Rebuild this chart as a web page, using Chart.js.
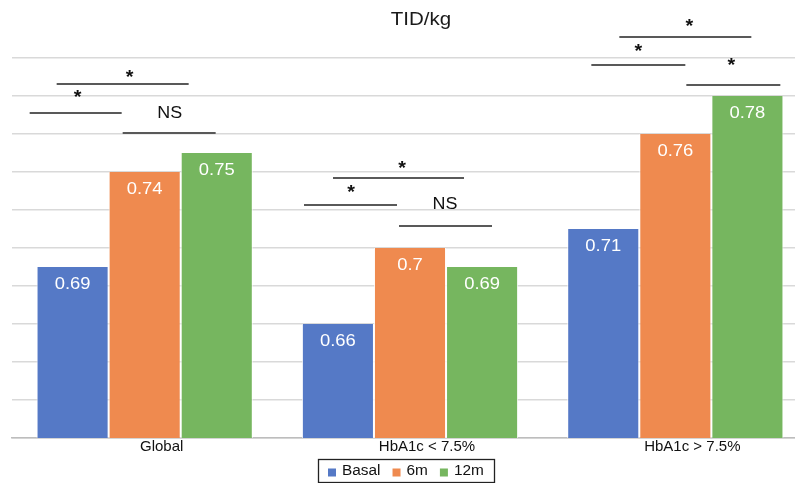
<!DOCTYPE html>
<html>
<head>
<meta charset="utf-8">
<script src="https://cdn.jsdelivr.net/npm/chart.js@4/dist/chart.umd.min.js"></script>
<style>
  html, body { margin: 0; padding: 0; background: #fff; overflow: hidden; }
  #wrap { position: relative; width: 808px; height: 483px; }
</style>
</head>
<body>
<div id="wrap"><canvas id="c"></canvas></div>
<script>
// Groups and series
const categories = ['Global', 'HbA1c < 7.5%', 'HbA1c > 7.5%'];
const seriesNames = ['Basal', '6m', '12m'];
const basal = [0.69, 0.66, 0.71];
const sixMonths = [0.74, 0.70, 0.76];
const twelveMonths = [0.75, 0.69, 0.78];
const seriesColors = ['#5579c6', '#ef8a4f', '#76b65f'];

// Significance brackets: group index, horizontal span (px from group centre),
// level on the value axis, the mark text and where it sits.
const brackets = [
  { cat: 0, x1: -115, x2: -23, y: 0.771,  text: '*',  tx: -67, ty: 0.7816 },
  { cat: 0, x1: -88,  x2: 44,  y: 0.7863, text: '*',  tx: -15, ty: 0.7920 },
  { cat: 0, x1: -22,  x2: 71,  y: 0.7605, text: 'NS', tx: 25,  ty: 0.7710 },
  { cat: 1, x1: -106, x2: -13, y: 0.7226, text: '*',  tx: -59, ty: 0.7316 },
  { cat: 1, x1: -77,  x2: 54,  y: 0.7368, text: '*',  tx: -8,  ty: 0.7442 },
  { cat: 1, x1: -11,  x2: 82,  y: 0.7116, text: 'NS', tx: 35,  ty: 0.7226 },
  { cat: 2, x1: -84,  x2: 10,  y: 0.7963, text: '*',  tx: -37, ty: 0.8058 },
  { cat: 2, x1: -56,  x2: 76,  y: 0.8111, text: '*',  tx: 14,  ty: 0.8190 },
  { cat: 2, x1: 11,   x2: 105, y: 0.7858, text: '*',  tx: 56,  ty: 0.7984 }
];

const FONT = '"Liberation Sans", Arial, Helvetica, sans-serif';

// text drawn slightly wider than the font's natural width
function wideText(ctx, text, x, y, sx) {
  ctx.save();
  ctx.translate(x, y);
  ctx.scale(sx, 1);
  ctx.fillText(text, 0, 0);
  ctx.restore();
}

// Title, value labels inside the bars, significance brackets, framed legend
const decorations = {
  id: 'decorations',
  afterDatasetsDraw(chart) {
    const ctx = chart.ctx;
    const xs = chart.scales.x, ys = chart.scales.y;
    ctx.save();

    // values written near the top of each bar
    ctx.font = '16px ' + FONT;
    ctx.fillStyle = '#ffffff';
    ctx.textAlign = 'center';
    ctx.textBaseline = 'middle';
    chart.data.datasets.forEach((ds, di) => {
      chart.getDatasetMeta(di).data.forEach((bar, i) => {
        wideText(ctx, String(ds.data[i]), bar.x, bar.y + 18, 1.15);
      });
    });

    // brackets
    ctx.strokeStyle = '#595959';
    ctx.lineWidth = 2;
    ctx.fillStyle = '#111111';
    brackets.forEach(b => {
      const cx = xs.getPixelForValue(b.cat);
      const y = Math.round(ys.getPixelForValue(b.y));
      ctx.beginPath();
      ctx.moveTo(cx + b.x1, y);
      ctx.lineTo(cx + b.x2, y);
      ctx.stroke();
      if (b.text === '*') {
        ctx.font = 'bold 18px ' + FONT;
        wideText(ctx, b.text, cx + b.tx, ys.getPixelForValue(b.ty) + 5, 1.1);
      } else {
        ctx.font = '16px ' + FONT;
        wideText(ctx, b.text, cx + b.tx, ys.getPixelForValue(b.ty), 1.12);
      }
    });

    // title
    ctx.font = '19px ' + FONT;
    ctx.fillStyle = '#1a1a1a';
    wideText(ctx, 'TID/kg', 421, 20, 1.08);

    // legend with a frame, centred under the plot
    ctx.font = '14px ' + FONT;
    const sx = 1.1;
    const box = 8, gapText = 6, gapItem = 12, pad = 10;
    const widths = seriesNames.map(n => ctx.measureText(n).width * sx);
    const total = pad * 2 + widths.reduce((s, w) => s + box + gapText + w, 0) + gapItem * (seriesNames.length - 1);
    const left = Math.round(406 - total / 2), top = 459, h = 23;
    ctx.strokeStyle = '#222222';
    ctx.lineWidth = 1.3;
    ctx.strokeRect(left + 0.5, top + 0.5, Math.round(total), h);
    let x = left + pad;
    const cy = top + h / 2 + 1;
    ctx.textAlign = 'left';
    seriesNames.forEach((n, i) => {
      ctx.fillStyle = seriesColors[i];
      ctx.fillRect(x, cy - 3, box, box);
      ctx.fillStyle = '#111111';
      wideText(ctx, n, x + box + gapText, cy, sx);
      x += box + gapText + widths[i] + gapItem;
    });
    ctx.restore();
  }
};

new Chart(document.getElementById('c'), {
  type: 'bar',
  data: {
    labels: categories,
    datasets: [
      { label: seriesNames[0], data: basal, backgroundColor: seriesColors[0] },
      { label: seriesNames[1], data: sixMonths, backgroundColor: seriesColors[1] },
      { label: seriesNames[2], data: twelveMonths, backgroundColor: seriesColors[2] }
    ].map(d => Object.assign(d, {
      borderColor: 'rgba(255,255,255,0.85)',
      borderWidth: { left: 1, right: 1, top: 0, bottom: 0 },
      borderSkipped: false,
      barPercentage: 1,
      categoryPercentage: 0.815
    }))
  },
  options: {
    responsive: true,
    maintainAspectRatio: false,
    animation: false,
    devicePixelRatio: 1,
    layout: { padding: { top: 58, left: 12, right: 0, bottom: 23 } },
    plugins: {
      title: { display: false },
      tooltip: { enabled: false },
      legend: { display: false }
    },
    scales: {
      x: {
        grid: { display: false, drawTicks: false },
        border: { display: true, color: '#bdbdbd', width: 1.5 },
        ticks: {
          color: '#111', font: { family: FONT, size: 15 },
          padding: 0, labelOffset: 17, maxRotation: 0
        },
        afterFit(scale) { scale.height = 22; }
      },
      y: {
        min: 0.60, max: 0.80,
        ticks: { display: false, stepSize: 0.02 },
        border: { display: false },
        grid: { color: '#d9d9d9', lineWidth: 1.5, drawTicks: false }
      }
    }
  },
  plugins: [decorations]
});
</script>
</body>
</html>
